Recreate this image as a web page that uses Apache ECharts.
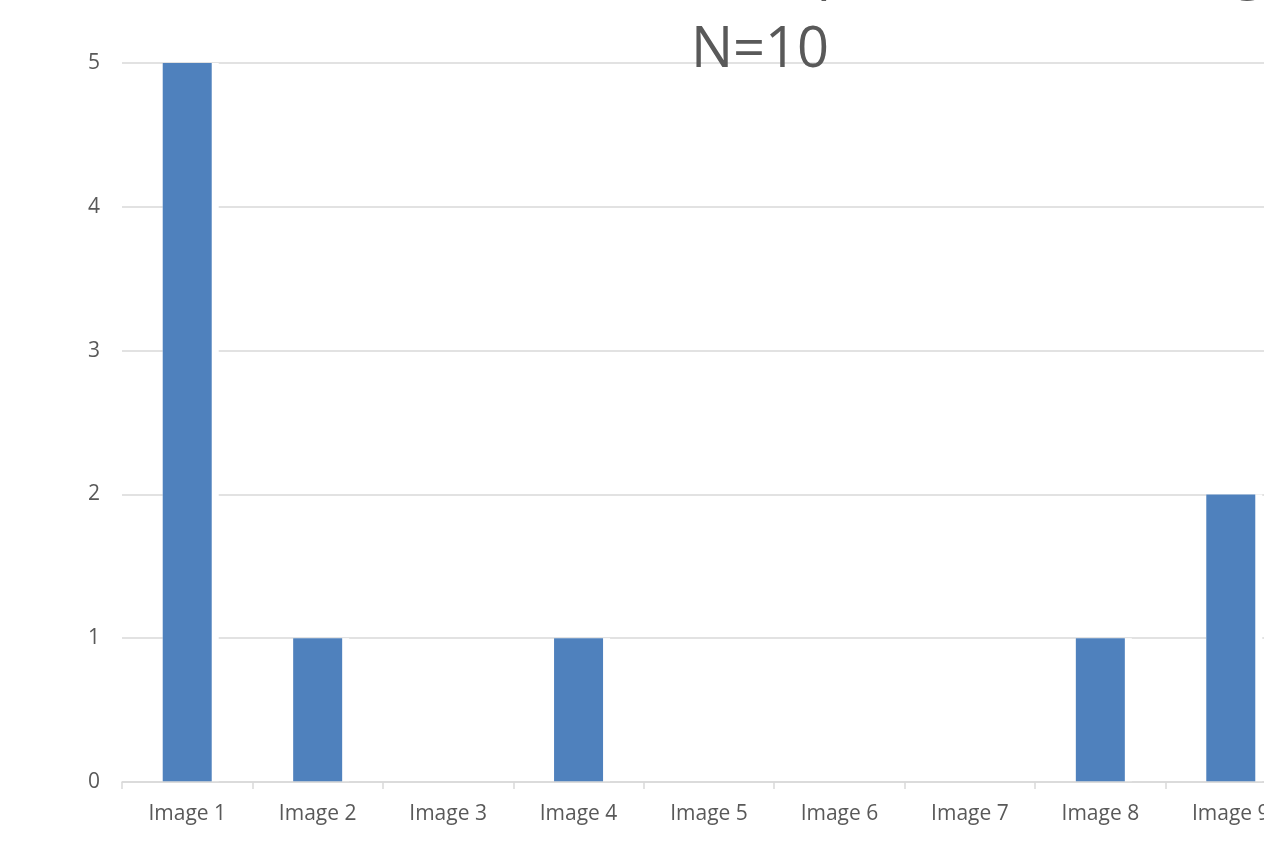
<!DOCTYPE html>
<html>
<head>
<meta charset="utf-8">
<script src="https://cdn.jsdelivr.net/npm/echarts@6/dist/echarts.min.js"></script>
<style>
  html, body { margin: 0; padding: 0; background: #ffffff; overflow: hidden; width: 1264px; height: 844px; }
  #chart { position: absolute; left: 0; top: -80px; width: 1520px; height: 924px; }
</style>
</head>
<body>
<div id="chart"></div>
<script>
// Votes per image
const categories = ['Image 1', 'Image 2', 'Image 3', 'Image 4', 'Image 5', 'Image 6', 'Image 7', 'Image 8', 'Image 9'];
const votes = [5, 1, 0, 1, 0, 0, 0, 1, 2];
const yTicks = [0, 1, 2, 3, 4, 5];
const titleLines = ['Votes Received for Top Choice Ranking', 'N=10'];

const chart = echarts.init(document.getElementById('chart'), null, { renderer: 'canvas' });

const textColor = '#595959';
const gridColor = '#D9D9D9';
const barColor = '#4F81BD';
const font = 'Open Sans';

// white halo only behind non-empty columns, so the baseline stays intact
const haloData = votes.map(v => (v > 0 ? v : '-'));

chart.setOption({
  animation: false,
  backgroundColor: '#ffffff',
  title: {
    text: titleLines.join('\n'),
    left: 'center',
    top: 6,
    textStyle: {
      fontFamily: font,
      fontSize: 56,
      fontWeight: 'normal',
      color: textColor,
      lineHeight: 80
    }
  },
  grid: { left: 122, right: 224, top: 143, bottom: 62, containLabel: false },
  xAxis: {
    type: 'category',
    data: categories,
    z: 10,
    axisLine: { show: true, lineStyle: { color: gridColor, width: 1.5 } },
    axisTick: { show: true, length: 7, lineStyle: { color: gridColor, width: 1.5 } },
    axisLabel: { color: textColor, fontFamily: font, fontSize: 21, margin: 22 },
    splitLine: { show: false }
  },
  yAxis: {
    type: 'value',
    min: yTicks[0],
    max: yTicks[yTicks.length - 1],
    interval: 1,
    axisLine: { show: false },
    axisTick: { show: false },
    axisLabel: { color: textColor, fontFamily: font, fontSize: 21, margin: 22 },
    splitLine: { show: true, lineStyle: { color: gridColor, width: 1.5 } }
  },
  series: [
    {
      type: 'bar',
      data: haloData,
      barWidth: 56,
      z: 2,
      silent: true,
      itemStyle: { color: '#ffffff', borderColor: '#ffffff', borderWidth: 3 }
    },
    {
      type: 'bar',
      data: votes,
      barWidth: 49,
      barGap: '-100%',
      z: 3,
      itemStyle: { color: barColor }
    }
  ]
});
</script>
</body>
</html>
